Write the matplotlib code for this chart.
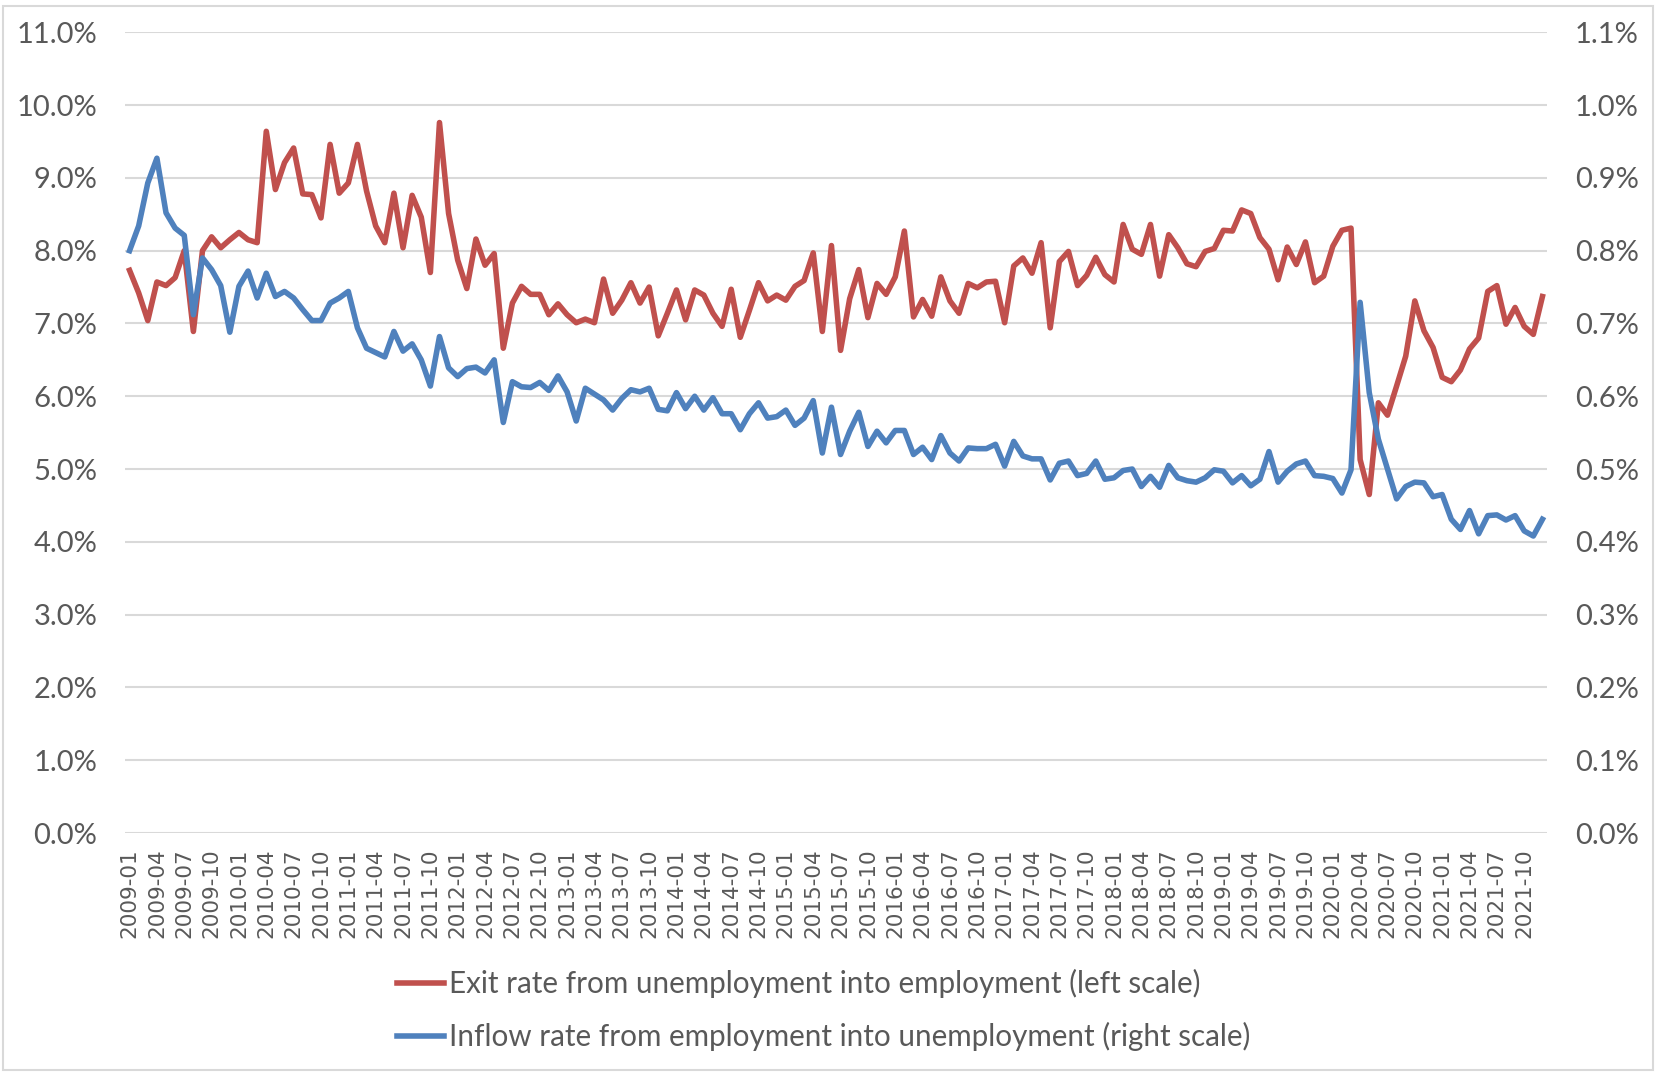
import matplotlib
matplotlib.use("Agg")
import matplotlib.pyplot as plt
from matplotlib.patches import Rectangle
import numpy as np
import pandas as pd

# monthly categories 2009-01 .. 2021-12
months = pd.date_range("2009-01-01", "2021-12-01", freq="MS").strftime("%Y-%m").tolist()

# exit rate from unemployment into employment, % (left scale)
exit_rate = [
    7.73, 7.42, 7.04, 7.57, 7.52, 7.63, 8.00, 6.89, 8.00, 8.19, 8.04, 8.15,
    8.25, 8.15, 8.11, 9.64, 8.84, 9.21, 9.41, 8.78, 8.77, 8.45, 9.46, 8.79,
    8.93, 9.46, 8.82, 8.34, 8.11, 8.79, 8.04, 8.76, 8.46, 7.70, 9.76, 8.51,
    7.87, 7.48, 8.16, 7.80, 7.96, 6.66, 7.28, 7.51, 7.40, 7.40, 7.12, 7.27,
    7.12, 7.01, 7.06, 7.01, 7.61, 7.14, 7.32, 7.56, 7.28, 7.50, 6.83, 7.14,
    7.46, 7.05, 7.46, 7.39, 7.14, 6.96, 7.47, 6.81, 7.18, 7.56, 7.31, 7.39,
    7.32, 7.51, 7.59, 7.97, 6.89, 8.07, 6.63, 7.34, 7.74, 7.08, 7.55, 7.40,
    7.64, 8.27, 7.09, 7.33, 7.10, 7.64, 7.31, 7.14, 7.55, 7.49, 7.57, 7.58,
    7.01, 7.79, 7.90, 7.69, 8.11, 6.94, 7.85, 7.99, 7.52, 7.66, 7.91, 7.67,
    7.57, 8.36, 8.02, 7.95, 8.36, 7.65, 8.22, 8.04, 7.82, 7.78, 7.99, 8.03,
    8.28, 8.27, 8.56, 8.51, 8.18, 8.02, 7.60, 8.05, 7.81, 8.12, 7.56, 7.65,
    8.06, 8.28, 8.31, 5.13, 4.65, 5.91, 5.74, 6.14, 6.55, 7.31, 6.90, 6.67,
    6.26, 6.20, 6.36, 6.65, 6.80, 7.44, 7.52, 6.99, 7.22, 6.96, 6.85, 7.37,
]

# inflow rate from employment into unemployment, % (right scale)
inflow_rate = [
    0.800, 0.834, 0.893, 0.927, 0.852, 0.831, 0.821, 0.712, 0.790, 0.774, 0.752, 0.688,
    0.751, 0.772, 0.735, 0.769, 0.737, 0.744, 0.735, 0.719, 0.704, 0.704, 0.728, 0.735,
    0.744, 0.694, 0.666, 0.660, 0.654, 0.689, 0.662, 0.672, 0.650, 0.614, 0.682, 0.639,
    0.627, 0.638, 0.640, 0.632, 0.650, 0.564, 0.620, 0.613, 0.612, 0.619, 0.608, 0.628,
    0.606, 0.566, 0.611, 0.603, 0.595, 0.581, 0.597, 0.609, 0.606, 0.611, 0.582, 0.580,
    0.605, 0.583, 0.600, 0.581, 0.598, 0.576, 0.576, 0.554, 0.576, 0.591, 0.570, 0.572,
    0.581, 0.560, 0.570, 0.594, 0.522, 0.585, 0.520, 0.552, 0.578, 0.531, 0.552, 0.536,
    0.553, 0.553, 0.520, 0.530, 0.513, 0.546, 0.522, 0.511, 0.529, 0.528, 0.528, 0.534,
    0.504, 0.538, 0.518, 0.514, 0.514, 0.485, 0.508, 0.511, 0.491, 0.494, 0.511, 0.486,
    0.488, 0.498, 0.500, 0.476, 0.490, 0.475, 0.505, 0.488, 0.484, 0.482, 0.488, 0.499,
    0.497, 0.481, 0.491, 0.477, 0.486, 0.524, 0.482, 0.497, 0.507, 0.511, 0.491, 0.490,
    0.487, 0.467, 0.499, 0.729, 0.605, 0.541, 0.500, 0.459, 0.476, 0.482, 0.481, 0.462,
    0.465, 0.431, 0.417, 0.443, 0.411, 0.436, 0.437, 0.430, 0.436, 0.415, 0.408, 0.431,
]

left_ticks = np.arange(0, 11.01, 1.0)
right_ticks = np.arange(0, 1.101, 0.1)

RED = "#C0504D"
BLUE = "#4F81BD"
GRID = "#D9D9D9"
TEXT = "#595959"
LABEL_FONT = ["Lato", "DejaVu Sans"]

W, H = 1656, 1073
fig = plt.figure(figsize=(W / 100, H / 100), dpi=100)
ax = fig.add_axes([125 / W, 1 - 833 / H, (1547 - 125) / W, (833 - 32.3) / H])
ax2 = ax.twinx()

x = np.arange(len(months))
ax.plot(x, exit_rate, color=RED, lw=4.0, solid_joinstyle="round", zorder=3)
ax2.plot(x, inflow_rate, color=BLUE, lw=4.0, solid_joinstyle="round", zorder=3)

ax.set_xlim(-0.5, len(months) - 0.5)
ax.set_ylim(0, 11)
ax2.set_ylim(0, 1.1)

ax.set_yticks(left_ticks)
ax.set_yticklabels([f"{v:.1f}%" for v in left_ticks], family=LABEL_FONT, fontsize=21, color=TEXT)
ax2.set_yticks(right_ticks)
ax2.set_yticklabels([f"{v:.1f}%" for v in right_ticks], family=LABEL_FONT, fontsize=21, color=TEXT)

ax.set_xticks(x[::3])
ax.set_xticklabels(months[::3], rotation=90, fontsize=15.5, color=TEXT, family="DejaVu Sans")

ax.tick_params(axis="y", length=0, pad=20)
ax2.tick_params(axis="y", length=0, pad=20)
ax.tick_params(axis="x", length=0, pad=11)

ax.grid(axis="y", color=GRID, lw=1.5)
ax.set_axisbelow(True)
for a in (ax, ax2):
    for s in a.spines.values():
        s.set_visible(False)

red_handle = plt.Line2D([], [], color=RED, lw=4.0)
blue_handle = plt.Line2D([], [], color=BLUE, lw=4.0)
fig.legend(
    [red_handle, blue_handle],
    ["Exit rate from unemployment into employment (left scale)",
     "Inflow rate from employment into unemployment (right scale)"],
    loc="upper left", bbox_to_anchor=(397 / W, 1 - 969 / H),
    frameon=False, borderpad=0, borderaxespad=0, handlelength=1.6,
    handletextpad=0.15, labelspacing=0.8,
    prop={"family": LABEL_FONT, "size": 21.3}, labelcolor=TEXT,
)

fig.patches.append(Rectangle((3 / W, 3 / H), 1 - 6 / W, 1 - 9 / H, transform=fig.transFigure,
                             fill=False, edgecolor=GRID, lw=1.5))

fig.savefig("out.png", dpi=100, facecolor="white")
